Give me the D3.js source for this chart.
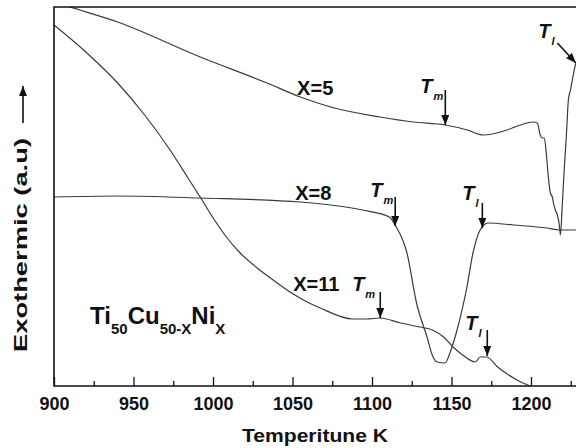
<!DOCTYPE html>
<html>
<head>
<meta charset="utf-8">
<script src="https://cdn.jsdelivr.net/npm/d3@7"></script>
<style>
  body { margin: 0; background: #fff; }
  text { font-family: "Liberation Sans", Arial, sans-serif; font-weight: bold; fill: #111; }
</style>
</head>
<body>
<div id="chart"></div>
<script>
// DSC traces, temperature (K) and signal (arbitrary units)
var tempX5 = [900, 910, 940, 992, 1034, 1055, 1074, 1105, 1126, 1146, 1160, 1170, 1185, 1193.3, 1201.4, 1204, 1205.8, 1207.1, 1208.4, 1209.6, 1210.9, 1212.2, 1213.4, 1214, 1215.3, 1216.6, 1217.8, 1218.5, 1219.8, 1221, 1222.3, 1223.5, 1224.8, 1226, 1227.9, 1229];
var valX5  = [384, 379, 364, 329, 303, 289, 279, 269, 264, 261, 256, 251, 256, 261, 264, 263, 251, 248, 248, 233, 209, 193, 189, 184, 176, 171, 161, 151, 185, 219, 252, 286, 296, 306, 321, 326];

var tempX8 = [900, 940, 992, 1055, 1074, 1094, 1111, 1114.5, 1122, 1128, 1134.6, 1138.4, 1141, 1146, 1149, 1153.5, 1159.7, 1163.5, 1168, 1173, 1189, 1210, 1218, 1229];
var valX8  = [189, 190, 188, 184, 181, 176, 169, 161, 133, 83, 49, 29, 24, 23, 33, 56, 99, 133, 156, 163, 161, 158, 156, 156];

var tempX11 = [900, 920, 940, 957, 973, 984.3, 993.1, 1000.1, 1008.9, 1017.1, 1027.8, 1037.8, 1048.5, 1059.2, 1067.4, 1088, 1097, 1105, 1118, 1130, 1138, 1145, 1151, 1157, 1165, 1168, 1172, 1179, 1189, 1198, 1200];
var valX11  = [361, 334, 303, 271, 236, 208, 186, 168, 148, 133, 118, 106, 94, 84, 78, 67, 67, 68, 63, 59, 56, 49, 39, 31, 24, 29, 29, 19, 8, 1, 0];

var majorTicks = [900, 950, 1000, 1050, 1100, 1150, 1200];
var minorTicks = [925, 975, 1025, 1075, 1125, 1175, 1225];

var seriesNames = ["X=5", "X=8", "X=11"];
var nameTemp = [1052.9, 1051.7, 1050.4];
var nameVal = [291, 186, 95];

// transition markers: label spot, arrow start, arrow end
var markSub    = ["m", "l", "m", "l", "m", "l"];
var markLabelT = [1130.3, 1204.6, 1098.9, 1156.8, 1087.5, 1158.7];
var markLabelV = [293, 348, 189, 186, 95, 56];
var arrowT1    = [1146.1, 1216.6, 1114.6, 1169.4, 1105.2, 1172.5];
var arrowV1    = [296, 343, 189, 183, 94, 56];
var arrowT2    = [1146.1, 1228.2, 1114.6, 1169.4, 1105.2, 1172.5];
var arrowV2    = [261, 323, 160, 158, 68, 30];

var width = 576, height = 448;
var padL = 54, padR = 576, padT = 7, padB = 386;

var svg = d3.select("#chart").append("svg")
    .attr("width", width).attr("height", height);

var x = d3.scaleLinear().domain([900, 1200]).range([padL, 531]);
var y = d3.scaleLinear().domain([0, 379]).range([padB, padT]);

var defs = svg.append("defs");
defs.append("clipPath").attr("id", "plotclip")
  .append("rect").attr("x", padL).attr("y", padT)
  .attr("width", padR - padL).attr("height", padB - padT);

defs.append("marker")
    .attr("id", "head")
    .attr("markerUnits", "userSpaceOnUse")
    .attr("viewBox", "0 0 10 8")
    .attr("refX", 10).attr("refY", 4)
    .attr("markerWidth", 11).attr("markerHeight", 8)
    .attr("orient", "auto")
  .append("path").attr("d", "M0,0L10,4L0,8Z").attr("fill", "#111");

var line = d3.line()
    .x(function (d) { return x(d[0]); })
    .y(function (d) { return y(d[1]); })
    .curve(d3.curveMonotoneX);

var series = [d3.zip(tempX5, valX5), d3.zip(tempX8, valX8), d3.zip(tempX11, valX11)];

svg.append("g").attr("clip-path", "url(#plotclip)")
  .selectAll("path").data(series).enter()
  .append("path")
    .attr("d", line)
    .attr("fill", "none")
    .attr("stroke", "#3a3a3a")
    .attr("stroke-width", 1.2);

// axes
var xAxis = svg.append("g").attr("transform", "translate(0," + padB + ")")
  .call(d3.axisBottom(x).tickValues(majorTicks).tickSize(-9).tickSizeOuter(0).tickPadding(11)
        .tickFormat(d3.format("d")));
xAxis.select(".domain").remove();
xAxis.selectAll("line").attr("stroke", "#111").attr("stroke-width", 1.3);
xAxis.selectAll("text").style("font-size", "18px").attr("fill", "#111");

var xMinor = svg.append("g").attr("transform", "translate(0," + padB + ")")
  .call(d3.axisBottom(x).tickValues(minorTicks).tickSize(-5).tickSizeOuter(0).tickFormat(""));
xMinor.select(".domain").remove();
xMinor.selectAll("line").attr("stroke", "#111").attr("stroke-width", 1.3);

svg.append("path")
  .attr("d", "M" + padR + "," + padT + "H" + padL + "V" + padB + "H" + padR)
  .attr("fill", "none").attr("stroke", "#111").attr("stroke-width", 1.6);

// axis titles
svg.append("text")
  .attr("x", 242).attr("y", 442)
  .attr("textLength", 146).attr("lengthAdjust", "spacingAndGlyphs")
  .style("font-size", "19px")
  .text("Temperitune K");

svg.append("text")
  .attr("transform", "translate(27,352) rotate(-90)")
  .attr("textLength", 214).attr("lengthAdjust", "spacingAndGlyphs")
  .style("font-size", "19px")
  .text("Exothermic (a.u)");

svg.append("line")
  .attr("x1", 23).attr("y1", 123).attr("x2", 23).attr("y2", 86)
  .attr("stroke", "#111").attr("stroke-width", 1.6)
  .attr("marker-end", "url(#head)");

// series labels
svg.selectAll(".sname").data(seriesNames).enter()
  .append("text").attr("class", "sname")
    .attr("x", function (d, i) { return x(nameTemp[i]); })
    .attr("y", function (d, i) { return y(nameVal[i]); })
    .style("font-size", "20px")
    .text(function (d) { return d; });

// T_m / T_l markers
var marks = svg.selectAll(".mark").data(markSub).enter().append("g").attr("class", "mark");
var mt = marks.append("text")
    .attr("x", function (d, i) { return x(markLabelT[i]); })
    .attr("y", function (d, i) { return y(markLabelV[i]); })
    .style("font-size", "20px").style("font-style", "italic");
mt.append("tspan").text("T");
mt.append("tspan").attr("dy", 7).attr("dx", 1).style("font-size", "11px")
  .text(function (d) { return d; });

marks.append("line")
    .attr("x1", function (d, i) { return x(arrowT1[i]); })
    .attr("y1", function (d, i) { return y(arrowV1[i]); })
    .attr("x2", function (d, i) { return x(arrowT2[i]); })
    .attr("y2", function (d, i) { return y(arrowV2[i]); })
    .attr("stroke", "#111").attr("stroke-width", 1.6)
    .attr("marker-end", "url(#head)");

// composition
var comp = svg.append("text").attr("x", x(922.7)).attr("y", y(62)).style("font-size", "24px");
comp.append("tspan").text("Ti");
comp.append("tspan").attr("dy", 10).style("font-size", "15px").text("50");
comp.append("tspan").attr("dy", -10).text("Cu");
comp.append("tspan").attr("dy", 10).style("font-size", "15px").text("50-X");
comp.append("tspan").attr("dy", -10).text("Ni");
comp.append("tspan").attr("dy", 10).style("font-size", "15px").text("X");
</script>
</body>
</html>
